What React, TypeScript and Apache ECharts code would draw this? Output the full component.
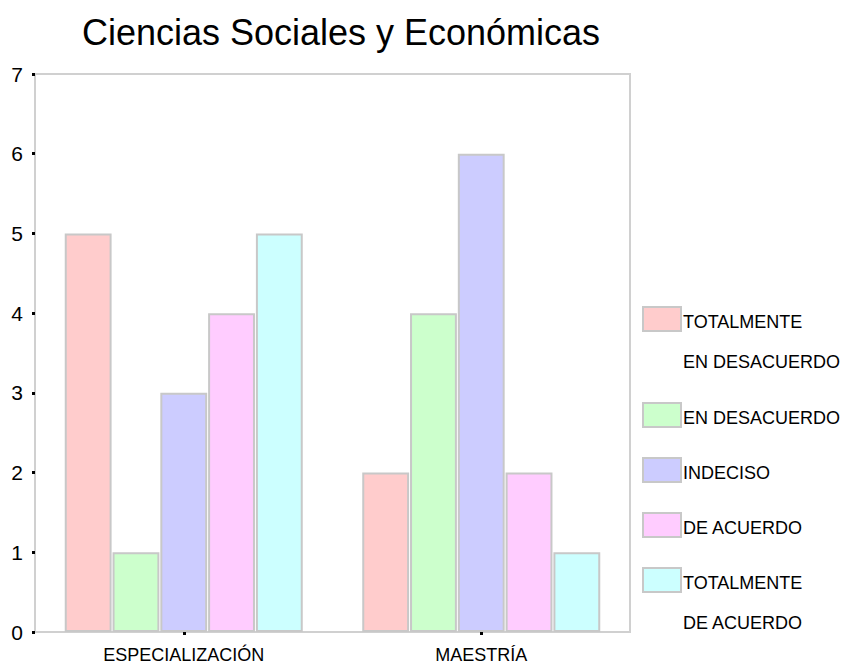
import React, { useEffect, useRef } from "react";
import * as echarts from "echarts";

const categories = ["ESPECIALIZACIÓN", "MAESTRÍA"];
const seriesNames = [
  "TOTALMENTE EN DESACUERDO",
  "EN DESACUERDO",
  "INDECISO",
  "DE ACUERDO",
  "TOTALMENTE DE ACUERDO",
];
const legendLines = [
  ["TOTALMENTE", "EN DESACUERDO"],
  ["EN DESACUERDO"],
  ["INDECISO"],
  ["DE ACUERDO"],
  ["TOTALMENTE", "DE ACUERDO"],
];
const totalmenteDesacuerdo = [5, 2];
const enDesacuerdo = [1, 4];
const indeciso = [3, 6];
const deAcuerdo = [4, 2];
const totalmenteAcuerdo = [5, 1];
const seriesValues = [totalmenteDesacuerdo, enDesacuerdo, indeciso, deAcuerdo, totalmenteAcuerdo];
const colors = ["#FFCCCC", "#CCFFCC", "#CCCCFF", "#FFCCFF", "#CCFFFF"];
const yTicks = [0, 1, 2, 3, 4, 5, 6, 7];

const FONT = "'Liberation Sans', Arial, sans-serif";

export default function App() {
  const ref = useRef<HTMLDivElement>(null);
  useEffect(() => {
    if (!ref.current) return;
    const chart = echarts.init(ref.current, null, { renderer: "svg" });

    const graphics: any[] = [];
    let top = 307;
    legendLines.forEach((lines, i) => {
      graphics.push({
        type: "rect",
        shape: { x: 643, y: top, width: 38, height: 24 },
        style: { fill: colors[i], stroke: "#c8c8c8", lineWidth: 2 },
      });
      lines.forEach((ln, j) => {
        graphics.push({
          type: "text",
          x: 683,
          y: top + 15 + j * 40,
          style: {
            text: ln,
            fill: "#000",
            font: `18px ${FONT}`,
            verticalAlign: "middle",
            align: "left",
          },
        });
      });
      top += 55 + (lines.length - 1) * 41;
    });

    chart.setOption({
      animation: false,
      backgroundColor: "#fff",
      title: {
        text: "Ciencias Sociales y Económicas",
        left: 336,
        top: 9,
        textAlign: "center",
        textStyle: { fontFamily: FONT, fontSize: 36, fontWeight: "normal", color: "#000" },
      },
      grid: {
        left: 35,
        top: 74,
        right: 215,
        bottom: 32,
        show: true,
        borderColor: "#d0d0d0",
        borderWidth: 2,
        containLabel: false,
      },
      xAxis: {
        type: "category",
        data: categories,
        axisLine: { lineStyle: { color: "#d0d0d0", width: 2 } },
        axisTick: { show: true, alignWithLabel: true, length: 3, lineStyle: { color: "#000", width: 3 } },
        axisLabel: { fontFamily: FONT, fontSize: 18, color: "#000", margin: 14 },
        splitLine: { show: false },
      },
      yAxis: {
        type: "value",
        min: yTicks[0],
        max: yTicks[yTicks.length - 1],
        interval: 1,
        axisLine: { show: true, lineStyle: { color: "#d0d0d0", width: 2 } },
        axisTick: { show: true, length: 3, lineStyle: { color: "#000", width: 3 } },
        axisLabel: { fontFamily: FONT, fontSize: 21, color: "#000", margin: 12 },
        splitLine: { show: false },
      },
      series: seriesNames.map((name, i) => ({
        name,
        type: "bar",
        data: seriesValues[i],
        barGap: "2%",
        barCategoryGap: "20%",
        itemStyle: { color: colors[i], borderColor: "#c8c8c8", borderWidth: 2 },
      })),
      graphic: graphics,
    });
    return () => chart.dispose();
  }, []);
  return (
    <div
      ref={ref}
      style={{ position: "fixed", left: 0, top: 0, width: 845, height: 664 }}
    />
  );
}
